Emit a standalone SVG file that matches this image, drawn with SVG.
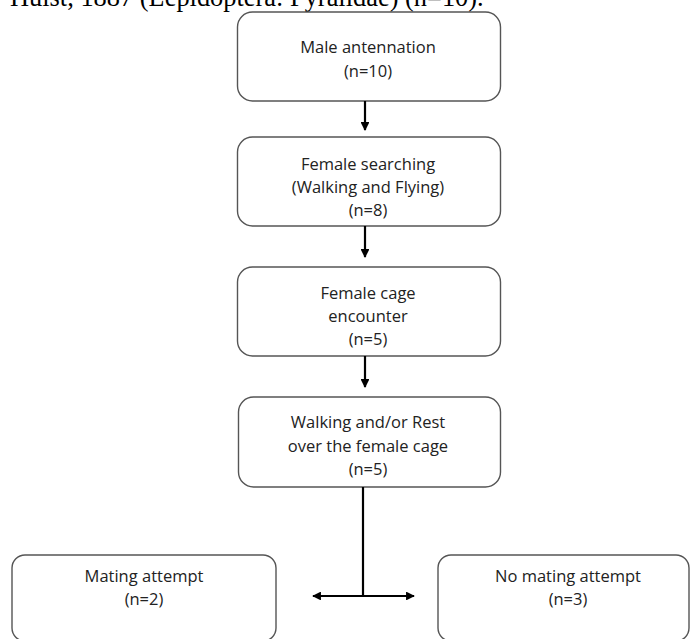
<svg xmlns="http://www.w3.org/2000/svg" width="691" height="639" viewBox="0 0 691 639">
<style>
.box{fill:#fff;stroke:#555;stroke-width:1.4}
.t{font-family:"Open Sans","Liberation Sans",sans-serif;font-size:16.5px;fill:#222;text-anchor:middle}
.c{stroke:#000;stroke-width:2.2;fill:none}
.hdr{font-family:"Liberation Serif","Times New Roman",serif;font-size:26.4px;fill:#000}
</style>
<defs>
<marker id="ah" viewBox="0 0 10 10" refX="9" refY="5" markerWidth="4" markerHeight="4" orient="auto-start-reverse" markerUnits="strokeWidth">
<path d="M0,0 L10,5 L0,10 z" fill="#000"/>
</marker>
</defs>
<rect width="691" height="639" fill="#fff"/>
<text class="hdr" x="10" y="6">Hulst, 1887 (Lepidoptera: Pyralidae) (n=10).</text>
<g id="n1"><rect class="box" x="237.5" y="12" width="263" height="89" rx="15"/>
<text class="t" x="368" y="53">Male antennation</text><text class="t" x="368" y="77">(n=10)</text></g>
<g id="n2"><rect class="box" x="237.5" y="137" width="263" height="89" rx="15"/>
<text class="t" x="368" y="170">Female searching</text><text class="t" x="368" y="193">(Walking and Flying)</text><text class="t" x="368" y="216">(n=8)</text></g>
<g id="n3"><rect class="box" x="237.5" y="267" width="263" height="89" rx="15"/>
<text class="t" x="368" y="299">Female cage</text><text class="t" x="368" y="322">encounter</text><text class="t" x="368" y="345">(n=5)</text></g>
<g id="n4"><rect class="box" x="238.5" y="397" width="262" height="90" rx="15"/>
<text class="t" x="368" y="428">Walking and/or Rest</text><text class="t" x="368" y="452">over the female cage</text><text class="t" x="368" y="475">(n=5)</text></g>
<g id="n5"><rect class="box" x="12" y="555" width="264" height="86" rx="13"/>
<text class="t" x="144" y="582">Mating attempt</text><text class="t" x="144" y="605">(n=2)</text></g>
<g id="n6"><rect class="box" x="438" y="555" width="251" height="86" rx="13"/>
<text class="t" x="568" y="582">No mating attempt</text><text class="t" x="568" y="605">(n=3)</text></g>
<g id="connectors">
<line class="c" x1="365" y1="101" x2="365" y2="130" marker-end="url(#ah)"/>
<line class="c" x1="365" y1="226" x2="365" y2="257" marker-end="url(#ah)"/>
<line class="c" x1="365" y1="356" x2="365" y2="387" marker-end="url(#ah)"/>
<line class="c" x1="363" y1="487" x2="363" y2="596"/>
<line class="c" x1="313" y1="596" x2="414" y2="596" marker-start="url(#ah)" marker-end="url(#ah)"/>
</g>
</svg>
